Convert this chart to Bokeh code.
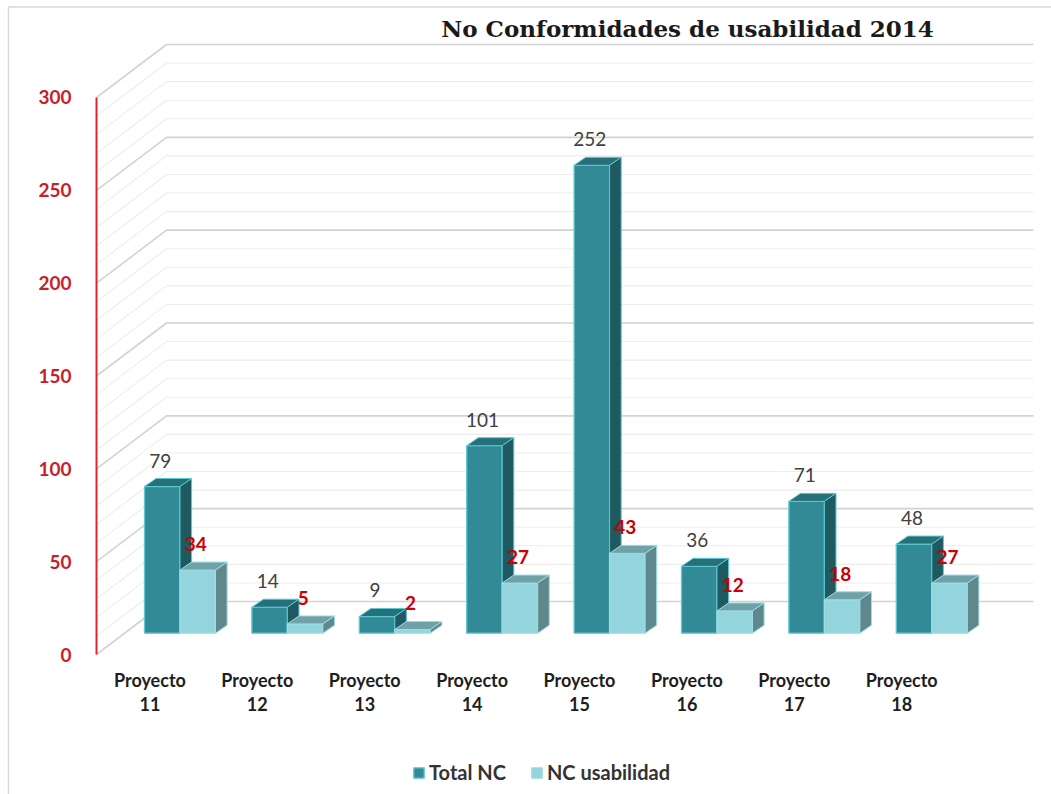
from bokeh.plotting import figure
from bokeh.models import Range1d, LinearAxis, FixedTicker, Legend, LegendItem
from bokeh.core.properties import value
from bokeh.embed import file_html
from bokeh.resources import INLINE

# ---- data -------------------------------------------------------------
proyectos = ["11", "12", "13", "14", "15", "16", "17", "18"]
total_nc = [79, 14, 9, 101, 252, 36, 71, 48]
nc_usabilidad = [34, 5, 2, 27, 43, 12, 18, 27]
y_ticks = [0, 50, 100, 150, 200, 250, 300]
series_names = ["Total NC", "NC usabilidad"]
title_text = "No Conformidades de usabilidad 2014"

# ---- canvas / scales ---------------------------------------------------
W, H = 1051, 794
X_START, X_END = -1.3408, 8.4451      # one x unit = one project slot
Y_START, Y_END = -75.40, 352.24       # y in NC counts
UX = (X_END - X_START) / W            # data units per screen pixel
UY = (Y_END - Y_START) / H


def sx(px):
    return X_START + px * UX


def sy(py):
    return Y_END - py * UY


AXIS_X = sx(96)            # front plane, where the value axis stands
WALL_DX = 70 * UX          # depth of the side wall
WALL_DY = 53 * UY
WALL_RIGHT = sx(1033)
BAR_BASE = sy(632.7)       # bars stand in the middle of the floor
BAR_W = 35.5 * UX
DEP_X = 11.6 * UX          # bar depth
DEP_Y = 8.0 * UY

p = figure(width=W, height=H, x_range=Range1d(X_START, X_END),
           y_range=Range1d(Y_START, Y_END), min_border=0,
           toolbar_location=None, x_axis_location=None,
           y_axis_location=None, output_backend="svg")
p.outline_line_color = None
p.background_fill_color = "white"
p.border_fill_color = "white"
p.grid.visible = False

# outer chart border (top and left edges)
p.line([sx(8), sx(8), sx(W)], [sy(H), sy(6.5), sy(6.5)],
       line_color="#D9D9D9", line_width=1.5)

# ---- walls: back gridlines + side wall diagonals ----------------------
minor_vals = list(range(0, 301, 10))
for v in minor_vals:
    major = v % 50 == 0
    col = "#D3D3D3" if major else "#EDEDED"
    lw = 1.6 if major else 1.1
    yb = v + WALL_DY
    p.line([AXIS_X, AXIS_X + WALL_DX, WALL_RIGHT], [v, yb, yb],
           line_color=col, line_width=lw)

# ---- 3D bars ------------------------------------------------------------
def faces(offset, vals):
    fx, fy, tx, ty, kx, ky = [], [], [], [], [], []
    for i, v in enumerate(vals):
        x0 = i + offset
        x1 = x0 + BAR_W
        yb = BAR_BASE
        yt = BAR_BASE + v
        fx.append([x0, x1, x1, x0])
        fy.append([yb, yb, yt, yt])
        tx.append([x0, x1, x1 + DEP_X, x0 + DEP_X])
        ty.append([yt, yt, yt + DEP_Y, yt + DEP_Y])
        kx.append([x1, x1 + DEP_X, x1 + DEP_X, x1])
        ky.append([yb, yb + DEP_Y, yt + DEP_Y, yt])
    return (fx, fy), (tx, ty), (kx, ky)


styles = [
    # front, top, side, edge
    ("#318A96", "#26707A", "#1F5A61", "#5CC8D5"),
    ("#93D4DD", "#6FA1A6", "#5E888B", "#9EDDE5"),
]
front_renderers = []
for k, vals in enumerate([total_nc, nc_usabilidad]):
    fc, tc, sc, ec = styles[k]
    front, top, side = faces(k * BAR_W, vals)
    rf = p.patches(front[0], front[1], fill_color=fc, line_color=ec,
                   line_width=1.3)
    p.patches(top[0], top[1], fill_color=tc, line_color=ec, line_width=1.0)
    p.patches(side[0], side[1], fill_color=sc, line_color=ec, line_width=1.0)
    front_renderers.append(rf)

# ---- value labels -------------------------------------------------------
lab_dy = 26 * UY
p.text([i + BAR_W / 2 - 2 * UX for i in range(len(total_nc))],
       [BAR_BASE + v + lab_dy for v in total_nc],
       text=[str(v) for v in total_nc], text_align="center",
       text_baseline="alphabetic", text_font=value("Lato"),
       text_font_size="19px", text_color="#404040")
p.text([i + 1.5 * BAR_W - 2 * UX for i in range(len(nc_usabilidad))],
       [BAR_BASE + v + lab_dy for v in nc_usabilidad],
       text=[str(v) for v in nc_usabilidad], text_align="center",
       text_baseline="alphabetic", text_font=value("Lato"),
       text_font_style="bold", text_font_size="19px", text_color="#CC0000")

# ---- category labels ----------------------------------------------------
cx = [i + 5.4 * UX for i in range(len(proyectos))]
p.text(cx, [sy(679)] * len(proyectos), text=["Proyecto"] * len(proyectos),
       text_align="center", text_baseline="middle", text_font=value("Lato"),
       text_font_style="bold", text_font_size="18px", text_color="#1E1E1E")
p.text(cx, [sy(703)] * len(proyectos), text=proyectos,
       text_align="center", text_baseline="middle", text_font=value("Lato"),
       text_font_style="bold", text_font_size="18px", text_color="#1E1E1E")

# ---- title --------------------------------------------------------------
p.text([sx(687)], [sy(28)], text=[title_text], text_align="center",
       text_baseline="middle", text_font=value("DejaVu Serif"),
       text_font_style="bold", text_font_size="23px", text_color="#1A1A1A")

# ---- value axis on the front plane -------------------------------------
yaxis = LinearAxis(fixed_location=AXIS_X, bounds=(0, 300),
                   ticker=FixedTicker(ticks=y_ticks))
yaxis.axis_line_color = "#D9262B"
yaxis.axis_line_width = 2
yaxis.major_tick_line_color = None
yaxis.minor_tick_line_color = None
yaxis.major_label_standoff = 19
yaxis.major_label_text_font = "Lato"
yaxis.major_label_text_font_style = "bold"
yaxis.major_label_text_font_size = "19px"
yaxis.major_label_text_color = "#C8202A"
p.add_layout(yaxis, "left")

# ---- legend -------------------------------------------------------------
legend = Legend(items=[LegendItem(label=series_names[0], renderers=[front_renderers[0]]),
                       LegendItem(label=series_names[1], renderers=[front_renderers[1]])],
                location=(412, 10), orientation="horizontal", margin=0,
                padding=0, border_line_color=None, background_fill_alpha=0,
                glyph_width=13, glyph_height=13, label_standoff=4, spacing=24,
                label_text_font="Lato", label_text_font_style="bold",
                label_text_font_size="20px", label_text_color="#333333")
p.add_layout(legend)

open("out.html", "w").write(file_html(p, INLINE))
